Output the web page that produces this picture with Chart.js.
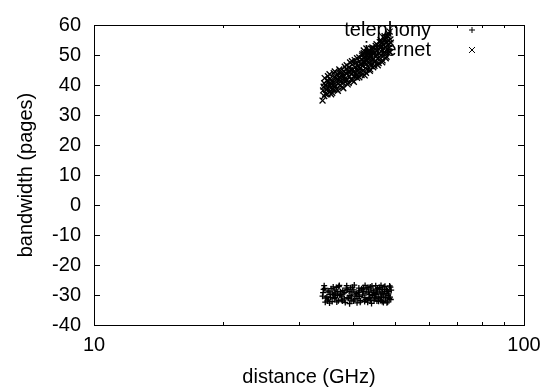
<!DOCTYPE html>
<html>
<head>
<meta charset="utf-8">
<script src="https://cdn.jsdelivr.net/npm/chart.js@4/dist/chart.umd.min.js"></script>
<style>
  html, body { margin: 0; padding: 0; background: #ffffff; }
  #wrap { width: 554px; height: 389px; position: relative; }
</style>
</head>
<body>
<div id="wrap"><canvas id="c" width="554" height="389"></canvas></div>
<script>
// ---- data ----
const seriesNames = ["telephony", "internet"];
const xTickLabels = [10, 100];
const yTickValues = [-40, -30, -20, -10, 0, 10, 20, 30, 40, 50, 60];

const telephonyPoints = [
  [34.2,-28.1],[35.1,-31.4],[36.0,-27.3],[37.3,-30.2],[38.4,-32.5],[39.2,-28.8],[40.5,-29.7],[41.7,-31.9],[42.3,-27.6],[43.8,-30.8],[44.6,-28.4],[45.9,-32.1],[46.7,-29.3],[47.5,-27.1],[48.6,-31.2],
  [34.8,-30.6],[35.6,-27.9],[36.7,-32.3],[37.9,-28.5],[38.8,-30.9],[39.9,-27.4],[40.9,-32.6],[41.2,-29.1],[42.8,-31.5],[43.1,-28.0],[44.2,-32.8],[45.3,-29.9],[46.1,-27.5],[47.2,-30.4],[48.1,-28.7],
  [34.5,-32.4],[35.9,-29.6],[36.4,-30.8],[37.1,-27.2],[38.1,-29.4],[39.6,-31.7],[40.2,-28.3],[41.4,-30.5],[42.6,-32.2],[43.5,-29.0],[44.9,-30.7],[45.6,-27.8],[46.4,-31.8],[47.8,-29.5],[48.9,-27.4],
  [34.1,-29.2],[35.3,-32.7],[36.9,-28.9],[37.6,-31.6],[38.6,-27.7],[39.4,-30.1],[40.7,-30.3],[41.9,-27.9],[42.1,-30.0],[43.3,-32.4],[44.4,-30.2],[45.1,-31.0],[46.9,-28.2],[47.1,-32.5],[48.3,-30.1],
  [35.0,-28.6],[36.2,-31.1],[37.5,-29.8],[38.2,-31.3],[39.8,-29.0],[40.4,-31.4],[41.5,-28.6],[42.9,-29.4],[43.9,-27.3],[44.7,-29.1],[45.8,-30.6],[46.3,-29.6],[47.6,-31.7],[48.5,-28.9],
  [34.6,-31.0],[36.5,-29.4],[38.9,-28.2],[40.1,-32.0],[42.4,-28.9],[44.1,-28.6],[46.6,-30.9],[48.2,-32.3],
  [35.4,-29.9],[37.7,-30.6],[39.3,-32.9],[41.1,-31.2],[43.6,-31.1],[45.4,-28.3],[47.4,-28.8],[48.8,-30.7],
  [34.3,-26.9],[35.2,-29.0],[35.8,-32.2],[36.3,-28.4],[36.8,-30.1],[37.2,-26.8],[37.8,-32.0],[38.3,-29.1],[38.7,-26.9],[39.1,-31.1],
  [39.5,-27.6],[39.7,-30.6],[40.3,-26.7],[40.8,-29.5],[41.3,-27.7],[41.6,-32.4],[42.0,-28.3],[42.5,-30.9],[42.7,-26.8],[43.2,-31.7],
  [43.4,-27.5],[43.7,-29.9],[44.0,-31.6],[44.3,-27.0],[44.8,-31.9],[45.0,-29.5],[45.2,-26.9],[45.5,-32.0],[45.7,-29.0],[46.0,-31.3],
  [46.2,-28.0],[46.5,-26.8],[46.8,-32.2],[47.0,-29.7],[47.3,-27.3],[47.7,-30.9],[47.9,-28.1],[48.0,-32.6],[48.4,-29.6],[48.7,-27.0],
  [49.0,-31.5],[49.1,-28.4],[34.0,-30.4],[34.4,-27.8],[34.9,-32.0],[35.5,-30.8],[36.1,-29.9],[36.6,-27.5],[37.0,-31.9],[37.4,-28.9]
];

const internetPoints = [
  [34.1,38.2],[34.3,40.6],[34.5,37.1],[34.6,39.8],[34.8,41.5],[35.0,38.9],[35.2,40.2],[35.4,42.1],[35.5,39.0],[35.7,41.3],
  [35.9,38.6],[36.1,40.9],[36.3,42.8],[36.4,39.7],[36.6,41.8],[36.8,43.5],[37.0,40.4],[37.2,42.6],[37.4,44.1],[37.5,41.2],
  [37.7,43.3],[37.9,40.8],[38.1,44.6],[38.3,42.0],[38.5,43.9],[38.6,45.3],[38.8,41.7],[39.0,44.2],[39.2,46.0],[39.3,42.9],
  [39.5,45.1],[39.7,43.6],[39.9,46.8],[40.1,44.3],[40.3,42.9],[40.5,45.9],[40.7,47.4],[40.9,44.8],[41.1,46.3],[41.3,43.9],
  [41.5,47.9],[41.7,45.6],[41.9,48.5],[42.1,46.4],[42.3,44.8],[42.5,48.0],[42.7,49.3],[42.9,46.9],[43.1,45.2],[43.3,48.8],
  [43.5,50.1],[43.7,47.5],[43.9,49.6],[44.1,46.3],[44.3,51.0],[44.5,48.4],[44.7,50.3],[44.9,47.8],[45.1,52.1],[45.3,49.5],
  [45.5,51.4],[45.7,48.9],[45.9,53.0],[46.1,50.6],[46.3,52.4],[46.5,49.8],[46.7,54.1],[46.9,51.7],[47.1,53.5],[47.3,50.9],
  [47.5,55.0],[47.7,52.6],[47.9,54.3],[48.1,51.8],[48.3,56.1],[48.5,53.7],[48.7,57.8],[48.9,55.2],[34.0,34.8],
  [34.2,39.4],[34.7,38.5],[35.1,41.0],[35.6,40.3],[36.0,39.9],[36.5,42.3],[37.1,41.6],[37.6,42.9],[38.2,43.0],[38.7,43.8],
  [39.4,44.5],[40.0,45.2],[40.6,44.0],[41.2,45.8],[41.8,46.9],[42.4,47.3],[43.0,48.1],[43.6,48.9],[44.2,49.5],[44.8,50.8],
  [45.4,50.2],[46.0,51.9],[46.6,52.9],[47.2,52.2],[47.8,53.9],[48.4,54.8],[35.3,37.8],[36.2,38.4],[37.3,39.9],[38.4,41.1],
  [39.6,41.9],[40.8,43.2],[41.6,44.4],[42.8,45.6],[44.0,47.1],[45.2,47.9],[46.4,48.8],[47.6,50.5],[48.6,52.4],
  [34.4,42.3],[34.9,36.9],[35.3,43.6],[35.8,37.4],[36.3,44.5],[36.7,38.5],[37.2,45.2],[37.8,39.3],[38.3,46.1],[38.9,40.2],
  [39.4,47.5],[39.9,41.6],[40.4,48.3],[40.9,42.4],[41.4,49.2],[41.9,43.3],[42.4,50.6],[42.9,44.1],[43.4,51.3],[43.9,45.2],
  [44.4,52.5],[44.9,46.4],[45.4,53.6],[45.9,47.3],[46.4,55.0],[46.9,48.2],[47.4,56.3],[47.9,49.4],[48.4,57.1],[48.8,50.9],
  [34.3,36.3],[35.0,42.9],[35.6,36.9],[36.1,43.9],[36.9,38.1],[37.4,44.8],[38.0,38.9],[38.7,46.6],[39.1,40.7],[39.8,47.9],
  [40.2,41.1],[40.9,48.9],[41.4,42.6],[42.0,49.8],[42.6,43.2],[43.2,50.9],[43.8,44.7],[44.3,51.9],[44.6,45.9],[45.2,53.0],
  [45.7,46.6],[46.2,54.3],[46.8,47.6],[47.3,55.6],[47.7,48.9],[48.2,56.4],[48.6,51.2],[49.0,54.1],
  [42.4,51.5],[43.0,52.2],[43.7,51.6],[44.0,50.2],[43.7,48.9],[43.0,48.4],[42.4,49.0],[42.1,50.3]
];

// ---- chart ----
const FONT = "'Liberation Sans', Arial, Helvetica, sans-serif";
const FSIZE = 20;
const INK = '#000000';
const markerStyles = ['cross', 'crossRot'];
const markerRadius = [3, 4.2];

function toXY(arr) { return arr.map(p => ({ x: p[0], y: p[1] })); }

const framePlugin = {
  id: 'frame',
  beforeDatasetsDraw(chart) {
    const { ctx, chartArea: a, scales } = chart;
    const xs = scales.x, ys = scales.y;
    ctx.save();
    ctx.strokeStyle = INK;
    ctx.lineWidth = 1;
    // ticks
    ctx.beginPath();
    yTickValues.forEach(v => {
      const py = Math.round(ys.getPixelForValue(v)) + 0.5;
      ctx.moveTo(a.left, py); ctx.lineTo(a.left + 6, py);
      ctx.moveTo(a.right, py); ctx.lineTo(a.right - 6, py);
    });
    for (let v = 20; v <= 90; v += 10) {
      const px = Math.round(xs.getPixelForValue(v)) + 0.5;
      ctx.moveTo(px, a.bottom); ctx.lineTo(px, a.bottom - 3);
      ctx.moveTo(px, a.top); ctx.lineTo(px, a.top + 3);
    }
    ctx.stroke();
    // border
    ctx.strokeRect(Math.round(a.left) + 0.5, Math.round(a.top) + 0.5,
                   Math.round(a.right - a.left), Math.round(a.bottom - a.top));
    // key
    ctx.fillStyle = INK;
    ctx.font = FSIZE + 'px ' + FONT;
    ctx.textAlign = 'right';
    ctx.textBaseline = 'middle';
    const keyY = [30, 50];
    seriesNames.forEach((name, i) => {
      ctx.fillText(name, 431, keyY[i]);
      const r = markerRadius[i];
      ctx.beginPath();
      if (i === 0) {
        ctx.moveTo(472 - r, keyY[i]); ctx.lineTo(472 + r, keyY[i]);
        ctx.moveTo(472, keyY[i] - r); ctx.lineTo(472, keyY[i] + r);
      } else {
        const d = r * Math.SQRT1_2;
        ctx.moveTo(472 - d, keyY[i] - d); ctx.lineTo(472 + d, keyY[i] + d);
        ctx.moveTo(472 - d, keyY[i] + d); ctx.lineTo(472 + d, keyY[i] - d);
      }
      ctx.stroke();
    });
    ctx.restore();
  }
};

new Chart(document.getElementById('c'), {
  type: 'scatter',
  data: {
    datasets: [
      { label: seriesNames[0], data: toXY(telephonyPoints), pointStyle: markerStyles[0], radius: markerRadius[0],
        borderColor: INK, backgroundColor: INK, borderWidth: 1.3 },
      { label: seriesNames[1], data: toXY(internetPoints), pointStyle: markerStyles[1], radius: markerRadius[1],
        borderColor: INK, backgroundColor: INK, borderWidth: 1.3 }
    ]
  },
  options: {
    responsive: false,
    animation: false,
    events: [],
    layout: { padding: { left: 0, right: 30, top: 15, bottom: 0 } },
    plugins: { legend: { display: false }, tooltip: { enabled: false } },
    scales: {
      x: {
        type: 'logarithmic',
        min: 10, max: 100,
        grid: { display: false, drawTicks: false },
        border: { display: false },
        afterFit(s) { s.height = 64; },
        afterBuildTicks(s) { s.ticks = xTickLabels.map(v => ({ value: v })); },
        ticks: {
          autoSkip: false, maxRotation: 0, padding: 8,
          color: INK, font: { family: FONT, size: FSIZE },
          callback: v => String(v)
        },
        title: { display: true, text: 'distance (GHz)', color: INK,
                 font: { family: FONT, size: FSIZE }, padding: { top: 0, bottom: 0 } }
      },
      y: {
        min: -40, max: 60,
        grid: { display: false, drawTicks: false },
        border: { display: false },
        afterFit(s) { s.width = 94; },
        afterBuildTicks(s) { s.ticks = yTickValues.map(v => ({ value: v })); },
        ticks: {
          padding: 13, color: INK, font: { family: FONT, size: FSIZE },
          callback: v => String(v)
        },
        title: { display: true, text: 'bandwidth (pages)', color: INK,
                 font: { family: FONT, size: FSIZE }, padding: { top: 14, bottom: 0 } }
      }
    }
  },
  plugins: [framePlugin]
});
</script>
</body>
</html>
